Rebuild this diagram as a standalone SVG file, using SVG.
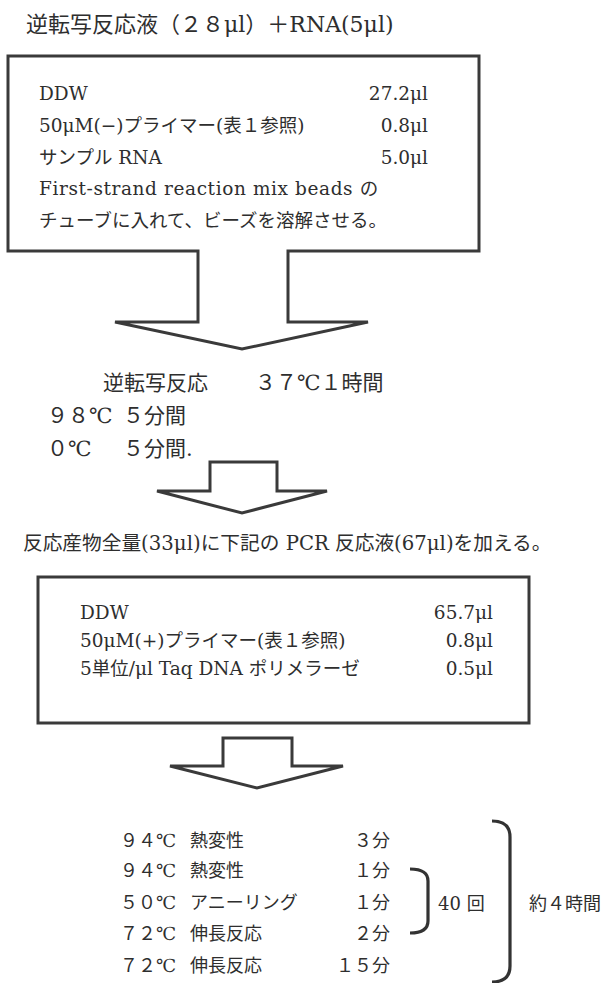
<svg xmlns="http://www.w3.org/2000/svg" width="608" height="983" viewBox="0 0 608 983">
<style>
.t{font-family:'DejaVu Serif','Noto Sans CJK JP',serif;fill:#2e2e2e}
.f22{font-size:22px}
.f21{font-size:21px}
.f20{font-size:19.7px}
.f18{font-size:18.5px}
.f17{font-size:18px}
.e{text-anchor:end}
.ln{fill:#fff;stroke:#3a3a3a;stroke-width:3;stroke-linejoin:miter}
.br{fill:none;stroke:#333;stroke-width:3.2;stroke-linecap:butt}
</style>
<rect width="608" height="983" fill="#fff"/>
<g id="title">
<text class="t f22" x="26" y="32">逆転写反応液（２８μl）＋RNA(5μl)</text>
</g>
<g id="box1">
<path class="ln" d="M8,56 H479 V251 H288 V322 H368 L242,349 L115,322 H198 V251 H8 Z"/>
<text class="t f18" x="39" y="100">DDW</text>
<text class="t f18 e" x="428" y="100">27.2μl</text>
<text class="t f18" x="39" y="132">50μM(−)プライマー(表１参照)</text>
<text class="t f18 e" x="428" y="132">0.8μl</text>
<text class="t f18" x="39" y="164">サンプル RNA</text>
<text class="t f18 e" x="428" y="164">5.0μl</text>
<text class="t f18" x="39" y="195" letter-spacing="0.6">First-strand reaction mix beads の</text>
<text class="t f18" x="39" y="227">チューブに入れて、ビーズを溶解させる。</text>
</g>
<g id="step1">
<text class="t f21" x="103" y="390">逆転写反応</text>
<text class="t f21" x="255" y="390">３７℃１時間</text>
<text class="t f21" x="47" y="423">９８℃</text>
<text class="t f21" x="123" y="423">５分間</text>
<text class="t f21" x="47" y="456">０℃</text>
<text class="t f21" x="123" y="456">５分間.</text>
</g>
<g id="connectors">
<path class="ln" d="M210,462 H277 V491 H327 L242,513 L157,491 H210 Z"/>
<path class="ln" d="M223,738 H292 V766 H343 L257,788 L170,766 H223 Z"/>
</g>
<g id="step2">
<text class="t f20" x="23" y="550">反応産物全量(33μl)に下記の PCR 反応液(67μl)を加える。</text>
</g>
<g id="box2">
<rect class="ln" x="38" y="577" width="491" height="146"/>
<text class="t f18" x="80" y="619">DDW</text>
<text class="t f18 e" x="493" y="619">65.7μl</text>
<text class="t f18" x="80" y="647">50μM(+)プライマー(表１参照)</text>
<text class="t f18 e" x="493" y="647">0.8μl</text>
<text class="t f18" x="80" y="675">5単位/μl Taq DNA ポリメラーゼ</text>
<text class="t f18 e" x="493" y="675">0.5μl</text>
</g>
<g id="pcr">
<text class="t f17" x="120" y="847">９４℃</text>
<text class="t f17" x="190" y="847">熱変性</text>
<text class="t f17 e" x="390" y="847">３分</text>
<text class="t f17" x="120" y="877">９４℃</text>
<text class="t f17" x="190" y="877">熱変性</text>
<text class="t f17 e" x="390" y="877">１分</text>
<text class="t f17" x="120" y="909">５０℃</text>
<text class="t f17" x="190" y="909">アニーリング</text>
<text class="t f17 e" x="390" y="909">１分</text>
<text class="t f17" x="120" y="940">７２℃</text>
<text class="t f17" x="190" y="940">伸長反応</text>
<text class="t f17 e" x="390" y="940">２分</text>
<text class="t f17" x="120" y="972">７２℃</text>
<text class="t f17" x="190" y="972">伸長反応</text>
<text class="t f17 e" x="390" y="972">１５分</text>
<path class="br" d="M410,869 Q428,869 428,881 V921 Q428,933 410,933"/>
<text class="t f17" x="438" y="910">40 回</text>
<path class="br" d="M492,821 Q510,821 510,837 V966 Q510,982 492,982"/>
<text class="t f17" x="529" y="910">約４時間</text>
</g>
</svg>
